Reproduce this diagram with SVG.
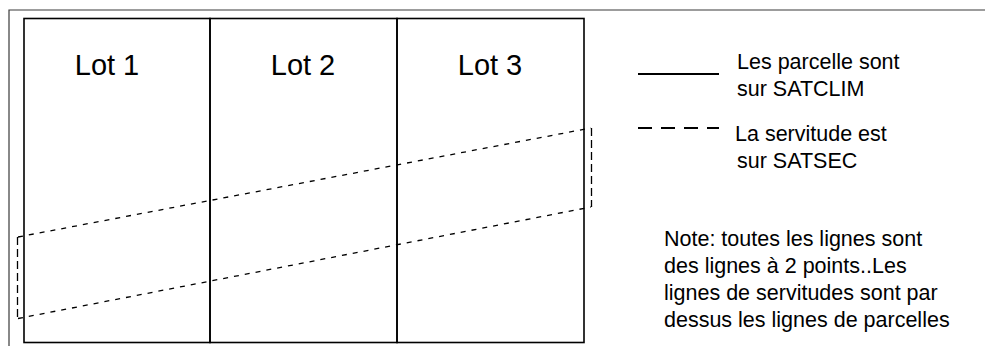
<svg xmlns="http://www.w3.org/2000/svg" width="985" height="346" viewBox="0 0 985 346">
<style>
  .frame{fill:none;stroke:#3a3a3a;stroke-width:1.2}
  .lot{fill:none;stroke:#000;stroke-width:1.6}
  .lotlabel{font-family:"Liberation Sans",Arial,sans-serif;font-size:29px;fill:#000;text-anchor:middle}
  .txt{font-family:"Liberation Sans",Arial,sans-serif;font-size:21.5px;fill:#000}
  .serv{fill:none;stroke:#000;stroke-width:1.3;stroke-dasharray:5 6}
  .servv{fill:none;stroke:#000;stroke-width:1.3;stroke-dasharray:8 4}
</style>
<rect width="985" height="346" fill="#fff"/>
<g id="frame">
  <path class="frame" d="M9,346 V10 H985"/>
</g>
<g id="lot1">
  <rect class="lot" x="24" y="18.5" width="186" height="324"/>
  <text class="lotlabel" x="107" y="75">Lot 1</text>
</g>
<g id="lot2">
  <rect class="lot" x="210" y="18.5" width="187" height="324"/>
  <text class="lotlabel" x="303" y="75">Lot 2</text>
</g>
<g id="lot3">
  <rect class="lot" x="397" y="18.5" width="187" height="324"/>
  <text class="lotlabel" x="490" y="75">Lot 3</text>
</g>
<g id="servitude">
  <path class="serv" d="M18,237 L591,128"/>
  <path class="serv" d="M18,318.5 L591,207"/>
  <path class="servv" d="M17.5,237 V318.5"/>
  <path class="servv" d="M591.5,128 V207"/>
</g>
<g id="legend">
  <line x1="638" y1="74" x2="719" y2="74" stroke="#000" stroke-width="2.2"/>
  <text class="txt" x="737" y="69">Les parcelle sont</text>
  <text class="txt" x="737" y="96">sur SATCLIM</text>
  <line x1="638" y1="128" x2="719" y2="128" stroke="#000" stroke-width="2" stroke-dasharray="14 9"/>
  <text class="txt" x="735" y="141">La servitude est</text>
  <text class="txt" x="737" y="168">sur SATSEC</text>
</g>
<g id="note">
  <text class="txt" x="664" y="246">Note: toutes les lignes sont</text>
  <text class="txt" x="664" y="273">des lignes à 2 points..Les</text>
  <text class="txt" x="664" y="300">lignes de servitudes sont par</text>
  <text class="txt" x="664" y="327">dessus les lignes de parcelles</text>
</g>
</svg>
